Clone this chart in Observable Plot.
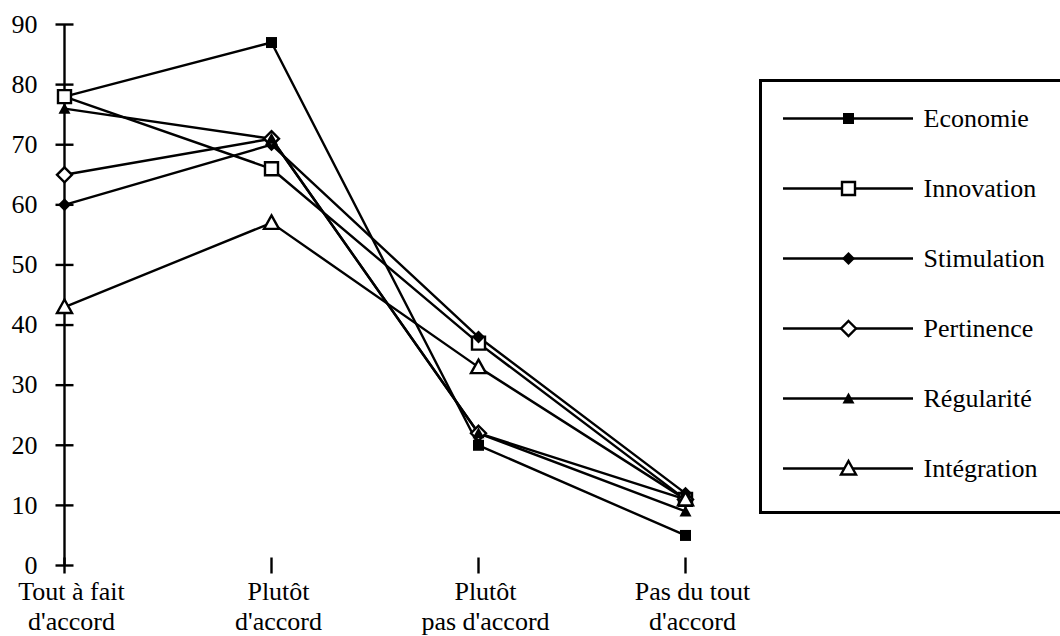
<!DOCTYPE html>
<html>
<head>
<meta charset="utf-8">
<script src="https://cdn.jsdelivr.net/npm/d3@7"></script>
<script src="https://cdn.jsdelivr.net/npm/@observablehq/plot@0.6"></script>
<style>
  html, body { margin: 0; padding: 0; background: white; overflow: hidden; }
  #wrap { position: relative; width: 1060px; height: 636px; overflow: hidden; background: white; }
  #chart { position: absolute; left: 0; top: 0; }
  #legend { position: absolute; left: 759px; top: 79px; width: 310px; height: 435px;
            border: 3px solid black; box-sizing: border-box; background: white; }
  svg text { font-family: "Liberation Serif", "Times New Roman", serif; }
</style>
</head>
<body>
<div id="wrap"><div id="chart"></div><div id="legend"></div></div>
<script>
// ---- data ----
const categories = ["Tout à fait\nd'accord", "Plutôt\nd'accord", "Plutôt\npas d'accord", "Pas du tout\nd'accord"];
const seriesNames = ["Economie", "Innovation", "Stimulation", "Pertinence", "Régularité", "Intégration"];
const economie    = [78, 87, 20, 5];
const innovation  = [78, 66, 37, 11];
const stimulation = [60, 70, 38, 12];
const pertinence  = [65, 71, 22, 11];
const regularite  = [76, 71, 22, 9];
const integration = [43, 57, 33, 11];
const yTicks = [0, 10, 20, 30, 40, 50, 60, 70, 80, 90];

const seriesValues = [economie, innovation, stimulation, pertinence, regularite, integration];

// ---- marker shapes ----
function poly(pts) {
  return { draw(ctx) { ctx.moveTo(pts[0][0], pts[0][1]); for (let k = 1; k < pts.length; k++) ctx.lineTo(pts[k][0], pts[k][1]); ctx.closePath(); } };
}
const filledSquare = poly([[-5.5, -5.5], [5.5, -5.5], [5.5, 5.5], [-5.5, 5.5]]);
const openSquare = poly([[-6.5, -6.5], [6.5, -6.5], [6.5, 6.5], [-6.5, 6.5]]);
const filledDiamond = poly([[0, -6.5], [6.5, 0], [0, 6.5], [-6.5, 0]]);
const openDiamond = poly([[0, -7.5], [7.5, 0], [0, 7.5], [-7.5, 0]]);
const filledTriangle = poly([[0, -6], [6, 5], [-6, 5]]);
const openTriangle = poly([[0, -7.5], [7.5, 6], [-7.5, 6]]);
const hTick = { draw(ctx) { ctx.moveTo(-9, 0); ctx.lineTo(9, 0); } };
const vTick = { draw(ctx) { ctx.moveTo(0, -8); ctx.lineTo(0, 8); } };

const styles = [
  { symbol: filledSquare, fill: "black", stroke: "none", strokeWidth: 0 },
  { symbol: openSquare, fill: "white", stroke: "black", strokeWidth: 2.4 },
  { symbol: filledDiamond, fill: "black", stroke: "none", strokeWidth: 0 },
  { symbol: openDiamond, fill: "white", stroke: "black", strokeWidth: 2.4 },
  { symbol: filledTriangle, fill: "black", stroke: "none", strokeWidth: 0 },
  { symbol: openTriangle, fill: "white", stroke: "black", strokeWidth: 2.4 }
];

const rows = [];
seriesNames.forEach((s, i) => seriesValues[i].forEach((v, j) => rows.push({ series: s, cat: categories[j], value: v })));

const font = { fontFamily: "Liberation Serif, Times New Roman, serif", fontSize: "26px", color: "black", background: "white", overflow: "visible" };
const SW = 2.4;

const chart = Plot.plot({
  width: 1060, height: 636,
  marginLeft: 63, marginRight: 375, marginTop: 24, marginBottom: 71,
  x: { type: "point", domain: categories, padding: 0, axis: null },
  y: { domain: [0, 90], axis: null },
  style: font,
  marks: [
    Plot.ruleX([categories[0]], { x: d => d, y1: 0, y2: 90, stroke: "black", strokeWidth: SW }),
    Plot.ruleY([0], { y: d => d, x1: categories[0], x2: categories[3], stroke: "black", strokeWidth: SW }),
    Plot.dot(yTicks, { x: () => categories[0], y: d => d, symbol: hTick, stroke: "black", strokeWidth: SW, fill: "none" }),
    Plot.dot(categories, { x: d => d, y: () => 0, symbol: vTick, stroke: "black", strokeWidth: SW, fill: "none" }),
    Plot.text(yTicks, { x: () => categories[0], y: d => d, text: d => String(d), textAnchor: "end", dx: -27, fill: "black" }),
    Plot.text(categories, { x: d => d, y: () => 0, text: d => d, lineAnchor: "top", dy: 14, dx: 7, lineHeight: 1.13, fill: "black" }),
    Plot.line(rows, { x: "cat", y: "value", z: "series", stroke: "black", strokeWidth: SW }),
    ...seriesNames.map((s, i) => Plot.dot(rows.filter(r => r.series === s), { x: "cat", y: "value", ...styles[i] }))
  ]
});
document.getElementById("chart").appendChild(chart);

const legend = Plot.plot({
  width: 294, height: 429,
  marginLeft: 21, marginRight: 143, marginTop: 36, marginBottom: 43,
  x: { domain: [0, 1], axis: null },
  y: { type: "point", domain: seriesNames, padding: 0, axis: null },
  style: font,
  marks: [
    Plot.ruleY(seriesNames, { y: d => d, x1: 0, x2: 1, stroke: "black", strokeWidth: SW }),
    ...seriesNames.map((s, i) => Plot.dot([s], { x: () => 0.5, y: d => d, ...styles[i] })),
    Plot.text(seriesNames, { x: () => 1, y: d => d, text: d => d, textAnchor: "start", dx: 10, fill: "black" })
  ]
});
document.getElementById("legend").appendChild(legend);
</script>
</body>
</html>
